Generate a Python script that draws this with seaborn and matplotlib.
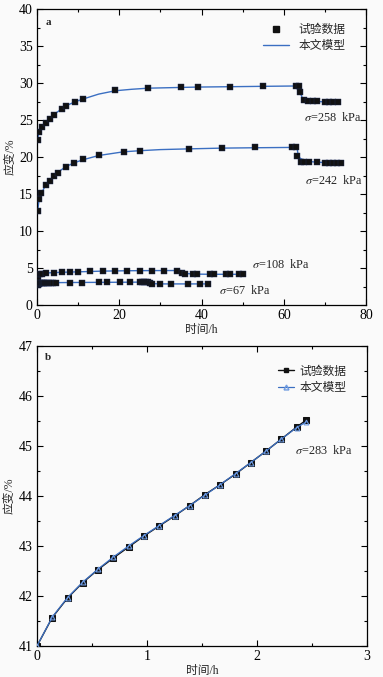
import matplotlib
matplotlib.use('Agg')
import matplotlib.pyplot as plt
from matplotlib.ticker import MultipleLocator, AutoMinorLocator
import seaborn as sns
import pandas as pd

# panel a: test data (time h, strain %)
t258 = [0.2, 0.5, 1.1, 2.1, 3.1, 4.1, 6.1, 7.1, 9.2, 11.1, 19.0, 27.0, 35.0, 39.1, 47.0, 55.0,
        63.0, 63.7, 63.9, 65.0, 66.0, 67.0, 68.0, 70.0, 71.0, 72.0, 73.1]
e258 = [22.3, 23.4, 24.0, 24.6, 25.2, 25.7, 26.5, 26.9, 27.4, 27.8, 29.0, 29.3, 29.4, 29.5, 29.5, 29.55,
        29.6, 29.6, 28.8, 27.65, 27.6, 27.6, 27.6, 27.45, 27.45, 27.45, 27.45]
t242 = [0.2, 0.5, 1.05, 2.1, 3.1, 4.1, 5.1, 7.05, 9.1, 11.1, 15.1, 21.1, 25.0, 37.0, 45.1, 53.0,
        62.0, 63.0, 63.2, 64.1, 65.0, 66.1, 68.0, 70.0, 71.0, 72.0, 73.0, 74.0]
e242 = [12.75, 14.3, 15.1, 16.2, 16.8, 17.4, 17.9, 18.7, 19.2, 19.7, 20.3, 20.7, 20.85, 21.1, 21.2, 21.3,
        21.3, 21.3, 20.15, 19.35, 19.35, 19.35, 19.3, 19.2, 19.2, 19.2, 19.2, 19.2]
t108 = [0.2, 0.7, 1.1, 2.1, 4.1, 6.1, 8.1, 10.0, 13.0, 16.1, 19.0, 22.0, 25.0, 28.0, 31.0, 34.0,
        35.2, 36.0, 38.0, 39.0, 42.0, 43.0, 46.0, 47.0, 49.0, 50.0]
e108 = [3.7, 4.15, 4.2, 4.3, 4.37, 4.4, 4.45, 4.45, 4.55, 4.6, 4.6, 4.65, 4.65, 4.65, 4.65, 4.65,
        4.3, 4.25, 4.15, 4.15, 4.15, 4.15, 4.15, 4.15, 4.15, 4.15]
t67 = [0.2, 0.5, 0.8, 1.1, 1.4, 1.7, 2.0, 2.5, 3.0, 3.5, 4.0, 4.5, 8.0, 11.0, 15.0, 17.0, 20.2,
       22.6, 25.0, 25.5, 26.0, 26.5, 27.0, 27.5, 28.0, 30.0, 32.7, 36.8, 39.6, 41.7]
e67 = [2.7, 2.9, 2.95, 2.97, 3.0, 3.0, 3.0, 3.0, 3.0, 3.02, 3.02, 3.02, 3.03, 3.04, 3.05, 3.05, 3.06,
       3.06, 3.1, 3.1, 3.1, 3.1, 3.08, 3.0, 2.9, 2.87, 2.85, 2.85, 2.85, 2.85]

# panel a: model curves
m258_t = [0, 0.2, 0.5, 1, 2, 3, 4, 6, 7, 9, 11, 15, 19, 23, 27, 35, 39, 47, 55, 63.5, 64, 64.5,
          65, 66, 68, 70, 73.5]
m258_e = [22.0, 22.6, 23.4, 24.0, 24.7, 25.2, 25.7, 26.5, 26.9, 27.4, 27.8, 28.5, 28.95, 29.15, 29.3,
          29.4, 29.45, 29.5, 29.55, 29.6, 28.7, 28.0, 27.75, 27.6, 27.5, 27.45, 27.45]
m242_t = [0, 0.2, 0.5, 1, 2, 3, 4, 5, 7, 9, 11, 15, 21, 25, 30, 37, 45, 53, 63.2, 63.5, 64, 65,
          66, 68, 70, 74]
m242_e = [12.2, 12.9, 14.2, 15.0, 16.1, 16.8, 17.4, 17.9, 18.7, 19.2, 19.6, 20.2, 20.7, 20.85, 21.0,
          21.1, 21.2, 21.25, 21.3, 20.3, 19.8, 19.55, 19.4, 19.3, 19.25, 19.2]
m108_t = [0, 0.2, 0.7, 1.5, 3, 6, 10, 16, 22, 28, 35, 35.5, 36.5, 38, 42, 50]
m108_e = [3.4, 3.7, 4.1, 4.25, 4.35, 4.42, 4.48, 4.58, 4.63, 4.65, 4.66, 4.4, 4.25, 4.18, 4.15, 4.15]
m67_t = [0, 0.2, 0.5, 1, 2, 4.5, 8, 15, 22, 27.5, 28, 28.5, 30, 35, 42]
m67_e = [2.5, 2.75, 2.9, 2.97, 3.0, 3.02, 3.04, 3.06, 3.08, 3.1, 2.95, 2.88, 2.85, 2.85, 2.85]

# panel b
tb = [0, 0.139, 0.278, 0.417, 0.556, 0.694, 0.833, 0.972, 1.111, 1.25, 1.389, 1.528, 1.667,
      1.806, 1.944, 2.083, 2.222, 2.361, 2.448]
eb_test = [41.0, 41.57, 41.96, 42.27, 42.53, 42.76, 42.98, 43.2, 43.4, 43.6, 43.81, 44.03, 44.23,
           44.44, 44.67, 44.9, 45.14, 45.38, 45.52]
eb_model = [41.0, 41.58, 41.97, 42.28, 42.54, 42.78, 43.0, 43.21, 43.41, 43.61, 43.81, 44.02, 44.23,
            44.45, 44.67, 44.9, 45.14, 45.37, 45.48]

sns.set_theme(style='ticks')
plt.rcParams['font.family'] = ['Liberation Serif', 'Noto Sans CJK SC', 'DejaVu Sans']
plt.rcParams['mathtext.fontset'] = 'stix'
plt.rcParams['axes.unicode_minus'] = False

BLUE = '#3b6fc2'
FS = 8.5
TFS = 10
BG = '#fafafa'

fig = plt.figure(figsize=(3.83, 6.77), dpi=100, facecolor=BG)
ax1 = fig.add_axes([37 / 383, 1 - 305 / 677, 329 / 383, 296 / 677])
ax2 = fig.add_axes([37 / 383, 1 - 646 / 677, 330 / 383, 300 / 677])


def style_axes(ax):
    ax.set_facecolor(BG)
    for s in ax.spines.values():
        s.set_color('black')
        s.set_linewidth(0.9)
    ax.xaxis.set_minor_locator(AutoMinorLocator(2))
    ax.yaxis.set_minor_locator(AutoMinorLocator(2))
    ax.tick_params(which='both', direction='in', top=True, right=True, colors='black',
                   labelsize=TFS, width=0.8, pad=3)
    ax.tick_params(which='major', length=4)
    ax.tick_params(which='minor', length=2.5)
    ax.set_xlabel('时间/h', fontsize=FS, labelpad=1)
    ax.set_ylabel('应变/%', fontsize=FS, labelpad=2)


# ---- panel a
for mt, me in [(m258_t, m258_e), (m242_t, m242_e), (m108_t, m108_e), (m67_t, m67_e)]:
    sns.lineplot(x=mt, y=me, ax=ax1, color=BLUE, lw=1.0, sort=False, estimator=None, zorder=2)
for tt, ee in [(t258, e258), (t242, e242), (t108, e108), (t67, e67)]:
    sns.scatterplot(x=tt, y=ee, ax=ax1, marker='s', s=13, color='#111111', edgecolor='#1c2a55',
                    linewidth=0.3, zorder=3)

ax1.set_xlim(0, 80)
ax1.set_ylim(0, 40)
ax1.xaxis.set_major_locator(MultipleLocator(20))
ax1.yaxis.set_major_locator(MultipleLocator(5))
style_axes(ax1)

h1 = plt.Line2D([], [], ls='none', marker='s', ms=3.8, color='#111111')
h2 = plt.Line2D([], [], color=BLUE, lw=1.0)
ax1.legend([h1, h2], ['试验数据', '本文模型'], loc='upper right', frameon=False, fontsize=FS,
           bbox_to_anchor=(0.97, 0.985), handlelength=2.2, labelspacing=0.35)

ax1.text(2.7, 38.2, 'a', fontsize=FS - 0.5, fontweight='bold', ha='center', va='center')
for x, y, lab in [(72, 25.3, '258'), (72.2, 16.8, '242'), (59.3, 5.5, '108'), (50.5, 2.0, '67')]:
    ax1.text(x, y, r'$\sigma$=' + lab + '  kPa', fontsize=FS + 0.3, ha='center', va='center')

# ---- panel b
sns.lineplot(x=tb, y=eb_test, ax=ax2, color='#111111', lw=1.0, marker='s', markersize=4,
             markeredgecolor='#111111', sort=False, estimator=None, zorder=2)
sns.lineplot(x=tb, y=eb_model, ax=ax2, color=BLUE, lw=0.9, marker='^', markersize=3.5,
             markerfacecolor='none', markeredgecolor='#6f9be0', markeredgewidth=0.8,
             sort=False, estimator=None, zorder=3)
ax2.set_xlim(0, 3)
ax2.set_ylim(41, 47)
ax2.xaxis.set_major_locator(MultipleLocator(1))
ax2.yaxis.set_major_locator(MultipleLocator(1))
style_axes(ax2)

hb1 = plt.Line2D([], [], color='#111111', lw=1.0, marker='s', ms=3.5)
hb2 = plt.Line2D([], [], color=BLUE, lw=0.9, marker='^', ms=3.5, mfc='none', mec='#6f9be0')
ax2.legend([hb1, hb2], ['试验数据', '本文模型'], loc='upper right', frameon=False, fontsize=FS,
           bbox_to_anchor=(0.97, 0.97), handlelength=1.3, handletextpad=0.5, labelspacing=0.4)

ax2.text(0.1, 46.78, 'b', fontsize=FS - 0.5, fontweight='bold', ha='center', va='center')
ax2.text(2.61, 44.9, r'$\sigma$=283  kPa', fontsize=FS + 0.3, ha='center', va='center')

fig.savefig('out.png', dpi=100, facecolor=BG)
